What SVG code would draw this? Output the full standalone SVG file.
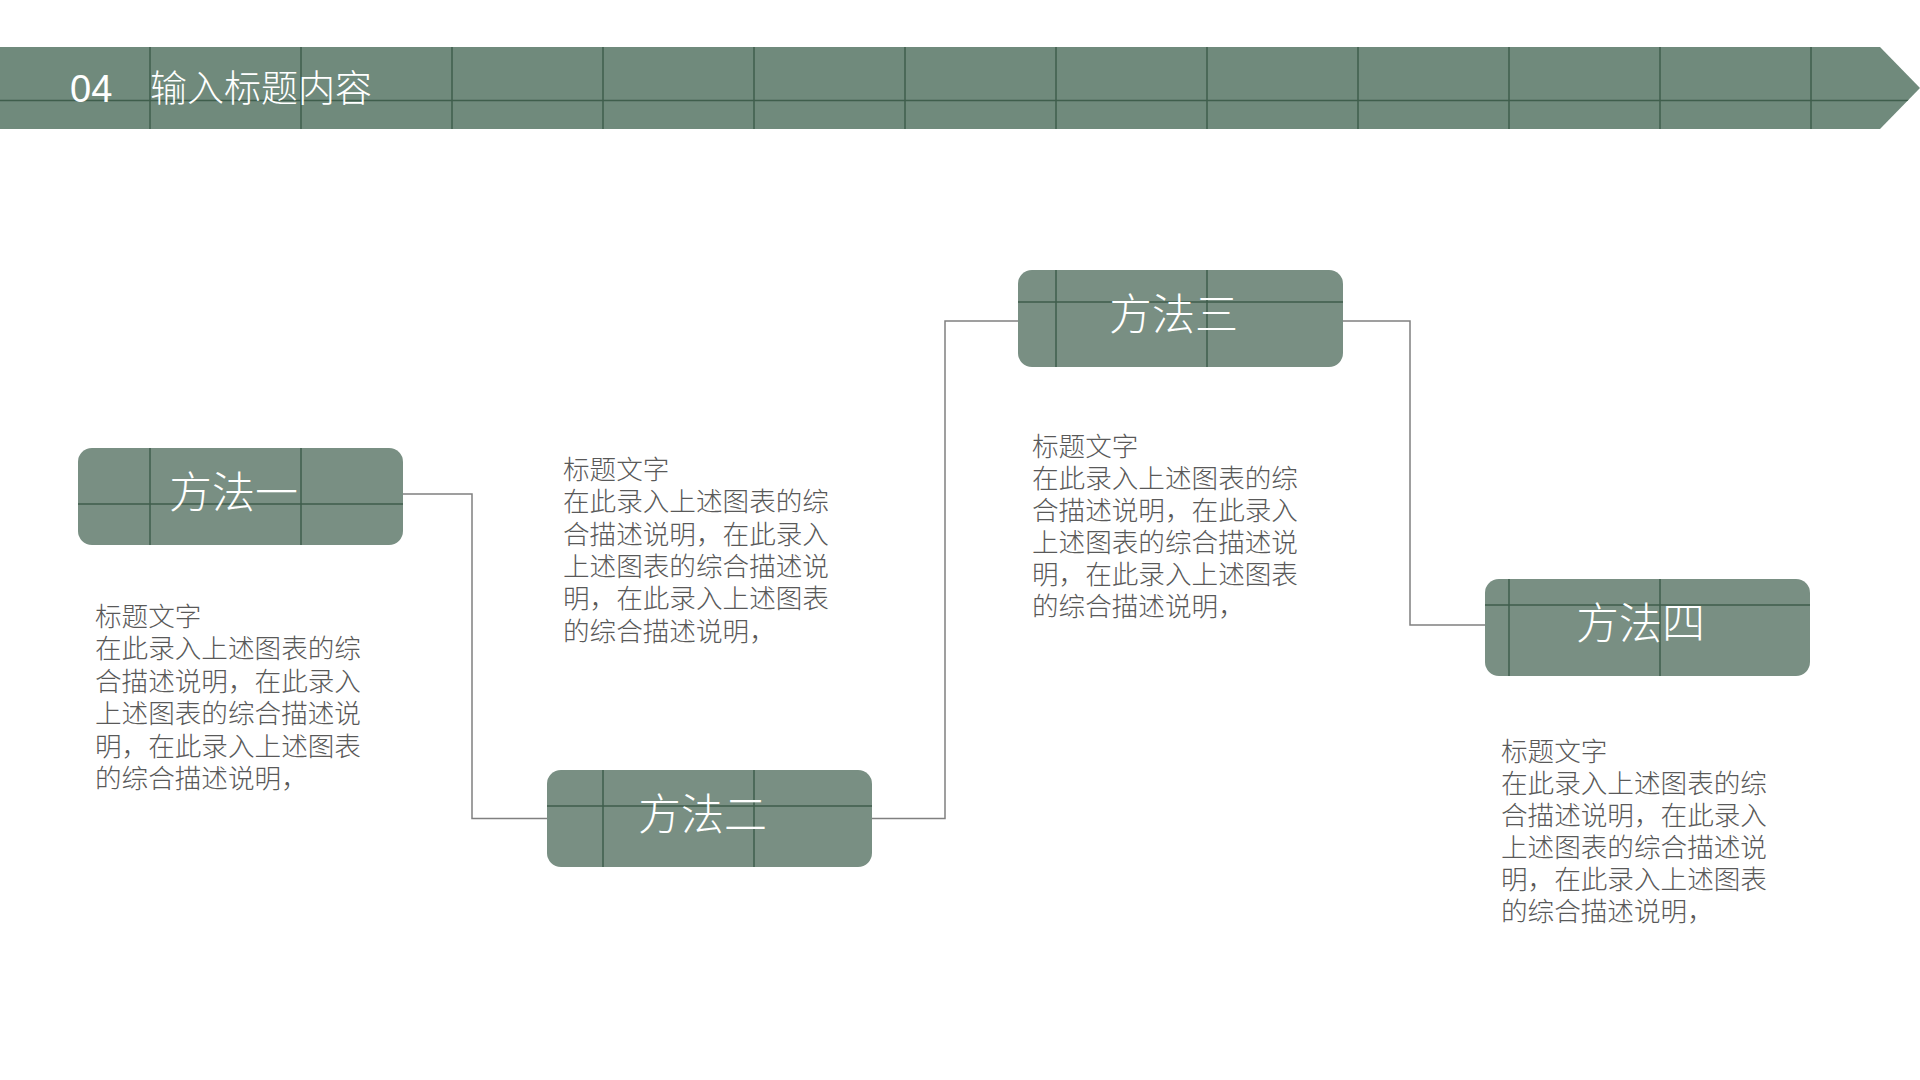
<svg xmlns="http://www.w3.org/2000/svg" width="1920" height="1080" viewBox="0 0 1920 1080">
  <style>
    .grid { stroke: #3f5e4c; stroke-width: 1.5; fill: none; }
    .node { fill: #798f83; }
    .title { font-family: "Noto Sans CJK SC", "Liberation Sans", sans-serif; font-size: 43px; font-weight: 300; fill: #ffffff; text-anchor: middle; }
    .body { font-family: "Noto Sans CJK SC", "Liberation Sans", sans-serif; font-size: 26.6px; font-weight: 300; fill: #595959; }
    .conn { stroke: #808080; stroke-width: 1.5; fill: none; }
  </style>
  <defs>
    <clipPath id="clipBanner"><polygon points="0,47 1880,47 1920,88 1880,129 0,129"/></clipPath>
    <clipPath id="c1"><rect x="78" y="448" width="325" height="97" rx="14"/></clipPath>
    <clipPath id="c2"><rect x="547" y="770" width="325" height="97" rx="14"/></clipPath>
    <clipPath id="c3"><rect x="1018" y="270" width="325" height="97" rx="14"/></clipPath>
    <clipPath id="c4"><rect x="1485" y="579" width="325" height="97" rx="14"/></clipPath>
  </defs>
  <rect width="1920" height="1080" fill="#ffffff"/>

  <g id="banner">
    <polygon points="0,47 1880,47 1920,88 1880,129 0,129" fill="#708a7c"/>
    <g class="grid" clip-path="url(#clipBanner)">
      <path d="M0,100.5H1920 M150,47V129 M301,47V129 M452,47V129 M603,47V129 M754,47V129 M905,47V129 M1056,47V129 M1207,47V129 M1358,47V129 M1509,47V129 M1660,47V129 M1811,47V129"/>
    </g>
    <text x="70" y="102" font-family="Liberation Sans, sans-serif" font-size="38" fill="#ffffff">04</text>
    <text x="150" y="102" font-family="Noto Sans CJK SC, sans-serif" font-size="37" font-weight="300" fill="#ffffff">输入标题内容</text>
  </g>

  <g id="connectors">
    <polyline class="conn" points="403,494 472,494 472,818.5 547,818.5"/>
    <polyline class="conn" points="872,818.5 945,818.5 945,321 1018,321"/>
    <polyline class="conn" points="1343,321 1410,321 1410,625 1485,625"/>
  </g>

  <g id="node1">
    <rect class="node" x="78" y="448" width="325" height="97" rx="14"/>
    <path class="grid" clip-path="url(#c1)" d="M150,448V545 M301,448V545 M78,504H403"/>
    <text class="title" x="233.5" y="508.3">方法一</text>
  </g>
  <g id="node2">
    <rect class="node" x="547" y="770" width="325" height="97" rx="14"/>
    <path class="grid" clip-path="url(#c2)" d="M603,770V867 M754,770V867 M547,806H872"/>
    <text class="title" x="702.5" y="830.3">方法二</text>
  </g>
  <g id="node3">
    <rect class="node" x="1018" y="270" width="325" height="97" rx="14"/>
    <path class="grid" clip-path="url(#c3)" d="M1056,270V367 M1207,270V367 M1018,302H1343"/>
    <text class="title" x="1173.5" y="330.3">方法三</text>
  </g>
  <g id="node4">
    <rect class="node" x="1485" y="579" width="325" height="97" rx="14"/>
    <path class="grid" clip-path="url(#c4)" d="M1509,579V676 M1660,579V676 M1485,605H1810"/>
    <text class="title" x="1640.5" y="639.3">方法四</text>
  </g>

  <g id="text1">
    <text class="body" x="95" y="626">
      <tspan x="95">标题文字</tspan>
      <tspan x="95" dy="32.4">在此录入上述图表的综</tspan>
      <tspan x="95" dy="32.4">合描述说明，在此录入</tspan>
      <tspan x="95" dy="32.4">上述图表的综合描述说</tspan>
      <tspan x="95" dy="32.4">明，在此录入上述图表</tspan>
      <tspan x="95" dy="32.4">的综合描述说明，</tspan>
    </text>
  </g>
  <g id="text2">
    <text class="body" x="563" y="479">
      <tspan x="563">标题文字</tspan>
      <tspan x="563" dy="32.3">在此录入上述图表的综</tspan>
      <tspan x="563" dy="32.3">合描述说明，在此录入</tspan>
      <tspan x="563" dy="32.3">上述图表的综合描述说</tspan>
      <tspan x="563" dy="32.3">明，在此录入上述图表</tspan>
      <tspan x="563" dy="32.3">的综合描述说明，</tspan>
    </text>
  </g>
  <g id="text3">
    <text class="body" x="1032" y="455.7">
      <tspan x="1032">标题文字</tspan>
      <tspan x="1032" dy="32.1">在此录入上述图表的综</tspan>
      <tspan x="1032" dy="32.1">合描述说明，在此录入</tspan>
      <tspan x="1032" dy="32.1">上述图表的综合描述说</tspan>
      <tspan x="1032" dy="32.1">明，在此录入上述图表</tspan>
      <tspan x="1032" dy="32.1">的综合描述说明，</tspan>
    </text>
  </g>
  <g id="text4">
    <text class="body" x="1501" y="760.6">
      <tspan x="1501">标题文字</tspan>
      <tspan x="1501" dy="32.1">在此录入上述图表的综</tspan>
      <tspan x="1501" dy="32.1">合描述说明，在此录入</tspan>
      <tspan x="1501" dy="32.1">上述图表的综合描述说</tspan>
      <tspan x="1501" dy="32.1">明，在此录入上述图表</tspan>
      <tspan x="1501" dy="32.1">的综合描述说明，</tspan>
    </text>
  </g>
</svg>
